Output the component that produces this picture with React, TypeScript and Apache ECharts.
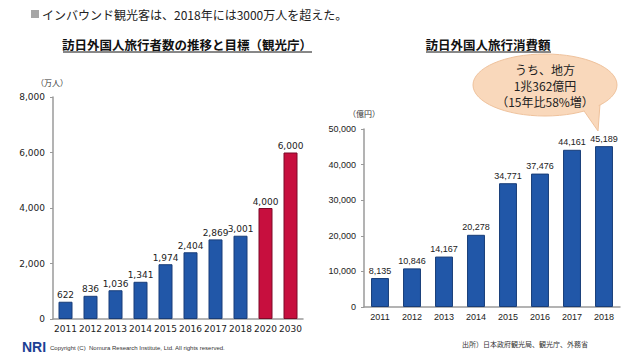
import React, { useEffect, useRef } from "react";
import * as echarts from "echarts";

const visitorYears = ["2011", "2012", "2013", "2014", "2015", "2016", "2017", "2018", "2020", "2030"];
const visitorValues = [622, 836, 1036, 1341, 1974, 2404, 2869, 3001, 4000, 6000];
const visitorTargetFrom = 8; // index from which values are targets (red)

const spendYears = ["2011", "2012", "2013", "2014", "2015", "2016", "2017", "2018"];
const spendValues = [8135, 10846, 14167, 20278, 34771, 37476, 44161, 45189];

const BLUE = "#2157a8";
const BLUE_BORDER = "#183d78";
const RED = "#c70f3e";
const RED_BORDER = "#7d0a28";
const JP = "'Noto Sans CJK JP', sans-serif";

const fmt = (v: number) => v.toLocaleString("en-US");

export default function App() {
  const ref = useRef<HTMLDivElement>(null);
  useEffect(() => {
    if (!ref.current) return;
    const chart = echarts.init(ref.current, null, { renderer: "svg" });
    const axisGray = "#9a9a9a";
    chart.setOption({
      animation: false,
      backgroundColor: "#ffffff",
      grid: [
        { left: 53, top: 97, width: 250, height: 222 },
        { left: 364, top: 129, width: 256, height: 178 },
      ],
      xAxis: [
        {
          type: "category",
          gridIndex: 0,
          data: visitorYears,
          axisLine: { lineStyle: { color: axisGray, width: 1.5 } },
          axisTick: { show: false },
          axisLabel: { color: "#222", fontSize: 9, fontFamily: "'DejaVu Sans'", margin: 5, interval: 0 },
        },
        {
          type: "category",
          gridIndex: 1,
          data: spendYears,
          axisLine: { lineStyle: { color: axisGray, width: 1.5 } },
          axisTick: { show: false },
          axisLabel: { color: "#222", fontSize: 9, fontFamily: "'Liberation Sans'", margin: 5, interval: 0 },
        },
      ],
      yAxis: [
        {
          type: "value",
          gridIndex: 0,
          min: 0,
          max: 8000,
          interval: 2000,
          axisLine: { show: true, lineStyle: { color: axisGray, width: 1.5 } },
          axisTick: { show: true, length: 3, lineStyle: { color: axisGray } },
          splitLine: { show: false },
          axisLabel: { color: "#222", fontSize: 9, fontFamily: "'DejaVu Sans'", formatter: (v: number) => fmt(v), margin: 8 },
        },
        {
          type: "value",
          gridIndex: 1,
          min: 0,
          max: 50000,
          interval: 10000,
          axisLine: { show: true, lineStyle: { color: axisGray, width: 1.5 } },
          axisTick: { show: true, length: 3, lineStyle: { color: axisGray } },
          splitLine: { show: false },
          axisLabel: { color: "#222", fontSize: 9, fontFamily: "'Liberation Sans'", formatter: (v: number) => fmt(v), margin: 8 },
        },
      ],
      series: [
        {
          type: "bar",
          xAxisIndex: 0,
          yAxisIndex: 0,
          barWidth: "56%",
          data: visitorValues.map((v, i) => ({
            value: v,
            itemStyle:
              i >= visitorTargetFrom
                ? { color: RED, borderColor: RED_BORDER, borderWidth: 1 }
                : { color: BLUE, borderColor: BLUE_BORDER, borderWidth: 1 },
          })),
          label: {
            show: true,
            position: "top",
            distance: 2,
            color: "#222",
            fontSize: 9,
            fontFamily: "'DejaVu Sans'",
            formatter: (p: any) => fmt(p.value),
          },
        },
        {
          type: "bar",
          xAxisIndex: 1,
          yAxisIndex: 1,
          barWidth: "56%",
          itemStyle: { color: BLUE, borderColor: BLUE_BORDER, borderWidth: 1 },
          data: spendValues,
          label: {
            show: true,
            position: "top",
            distance: 3,
            color: "#222",
            fontSize: 9,
            fontFamily: "'Liberation Sans'",
            formatter: (p: any) => fmt(p.value),
          },
        },
      ],
      graphic: [
        // header
        { type: "rect", shape: { x: 31, y: 10, width: 8, height: 8 }, style: { fill: "#a6a6a6" } },
        {
          type: "text",
          x: 42,
          y: 14,
          style: { text: "インバウンド観光客は、2018年には3000万人を超えた。", font: `12px ${JP}`, fill: "#222", verticalAlign: "middle" },
        },
        // titles
        {
          type: "text",
          x: 187,
          y: 44,
          style: { text: "訪日外国人旅行者数の推移と目標（観光庁）", font: `bold 12.5px ${JP}`, fill: "#111", align: "center", verticalAlign: "middle" },
        },
        { type: "line", shape: { x1: 63, y1: 52, x2: 312, y2: 52 }, style: { stroke: "#111", lineWidth: 1 } },
        {
          type: "text",
          x: 488,
          y: 44,
          style: { text: "訪日外国人旅行消費額", font: `bold 12.5px ${JP}`, fill: "#111", align: "center", verticalAlign: "middle" },
        },
        { type: "line", shape: { x1: 426, y1: 52, x2: 551, y2: 52 }, style: { stroke: "#111", lineWidth: 1 } },
        // units
        { type: "text", x: 52, y: 82, style: { text: "（万人）", font: `8px ${JP}`, fill: "#333", align: "center", verticalAlign: "middle" } },
        { type: "text", x: 364, y: 113, style: { text: "（億円）", font: `8px ${JP}`, fill: "#333", align: "center", verticalAlign: "middle" } },
        // bubble
        {
          type: "polygon",
          shape: { points: [[582, 108], [600, 104], [598, 131]] },
          style: { fill: "#f9d8bb", stroke: "#efc29c", lineWidth: 1 },
        },
        {
          type: "ellipse",
          shape: { cx: 545, cy: 85, rx: 72, ry: 31 },
          style: { fill: "#f9d8bb", stroke: "#efc29c", lineWidth: 1 },
        },
        {
          type: "polygon",
          shape: { points: [[583, 106], [599, 102], [598, 112], [585, 112]] },
          style: { fill: "#f9d8bb" },
        },
        { type: "text", x: 545, y: 69, style: { text: "うち、地方", font: `12px ${JP}`, fill: "#222", align: "center", verticalAlign: "middle" } },
        { type: "text", x: 545, y: 85, style: { text: "1兆362億円", font: `12px ${JP}`, fill: "#222", align: "center", verticalAlign: "middle" } },
        { type: "text", x: 545, y: 101, style: { text: "（15年比58%増）", font: `12px ${JP}`, fill: "#222", align: "center", verticalAlign: "middle" } },
        // footer
        { type: "text", x: 22, y: 347, style: { text: "NRI", font: "bold 14px 'Liberation Sans'", fill: "#1c3f94", verticalAlign: "middle" } },
        {
          type: "text",
          x: 50,
          y: 348,
          style: { text: "Copyright (C)  Nomura Research Institute, Ltd. All rights reserved.", font: "6px 'Liberation Sans'", fill: "#333", verticalAlign: "middle" },
        },
        {
          type: "text",
          x: 462,
          y: 344,
          style: { text: "出所）日本政府観光局、観光庁、外務省", font: `7px ${JP}`, fill: "#333", verticalAlign: "middle" },
        },
      ],
    });
    return () => chart.dispose();
  }, []);
  return <div ref={ref} style={{ position: "fixed", left: 0, top: 0, width: 640, height: 360 }} />;
}
